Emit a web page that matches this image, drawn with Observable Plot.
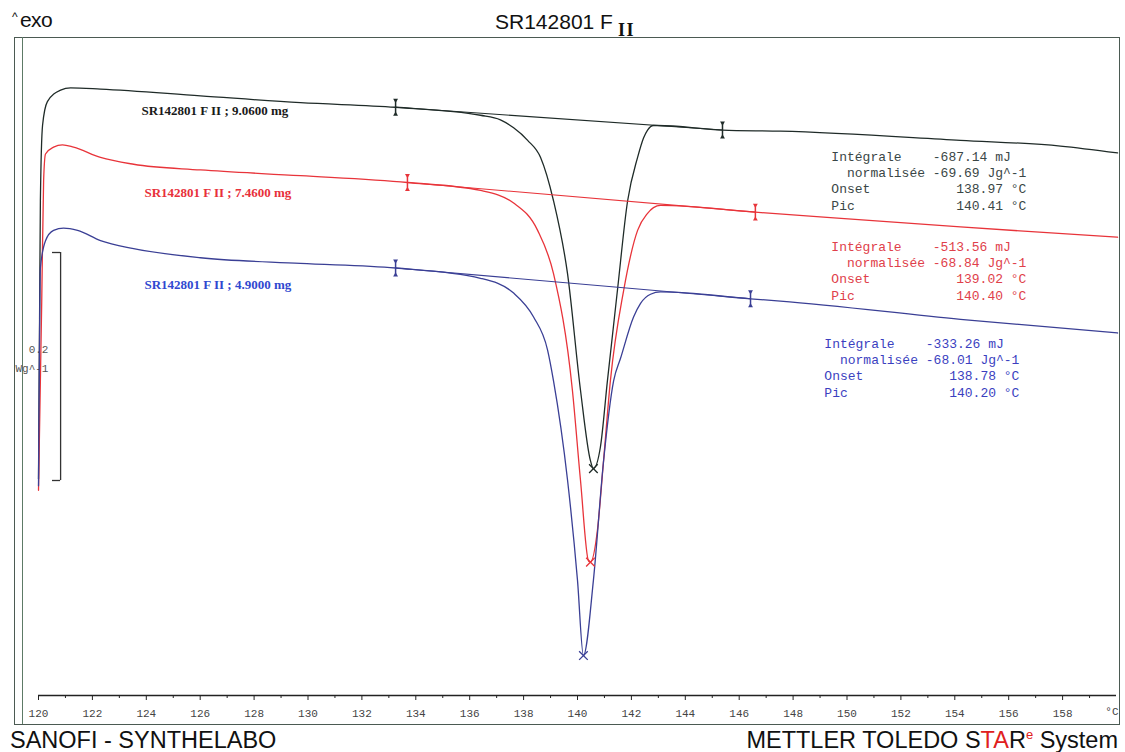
<!DOCTYPE html>
<html><head><meta charset="utf-8">
<script src="https://cdn.jsdelivr.net/npm/d3@7"></script>
<script src="https://cdn.jsdelivr.net/npm/@observablehq/plot@0.6"></script>
<style>
body{margin:0;background:#fff;}
svg text{white-space:pre;}
</style></head><body><div id="chart"></div>
<script>
// Temperature (°C) and heat flow (W/g, arbitrary zero)
const blackT = [120.00,120.04,120.07,120.15,120.33,120.82,121.19,122.30,126.01,129.72,133.25,136.40,137.14,137.63,138.15,138.63,139.11,139.63,140.11,140.48,140.59,140.85,141.11,141.48,141.86,142.23,142.45,142.60,142.82,142.97,145.38,147.53,154.21,157.92,160.04];
const blackHF = [0.190,0.330,0.434,0.500,0.521,0.531,0.533,0.532,0.526,0.520,0.516,0.509,0.505,0.498,0.487,0.472,0.434,0.370,0.268,0.206,0.199,0.218,0.276,0.355,0.434,0.472,0.489,0.496,0.500,0.500,0.496,0.495,0.487,0.482,0.476];

const redT = [120.00,120.12,120.19,120.26,120.56,120.89,121.30,122.30,123.53,126.01,129.72,133.69,136.40,137.63,138.52,139.11,139.81,140.11,140.41,140.48,140.74,140.96,141.22,141.71,142.23,142.60,142.82,143.08,146.60,154.21,160.04];
const redHF = [0.180,0.346,0.452,0.475,0.481,0.483,0.481,0.472,0.466,0.461,0.456,0.450,0.443,0.432,0.408,0.370,0.268,0.189,0.118,0.117,0.145,0.204,0.276,0.355,0.408,0.423,0.428,0.430,0.424,0.411,0.402];

const blueT = [120.00,120.04,120.07,120.26,120.56,120.93,121.45,122.30,123.53,126.01,129.72,133.25,136.40,137.63,138.37,138.89,139.11,139.63,140.00,140.22,140.59,140.96,141.34,141.60,142.08,142.34,142.71,143.08,146.42,147.53,154.21,160.04];
const blueHF = [0.184,0.320,0.375,0.399,0.408,0.410,0.408,0.399,0.392,0.384,0.379,0.375,0.366,0.353,0.332,0.303,0.276,0.189,0.101,0.035,0.101,0.204,0.276,0.296,0.332,0.344,0.352,0.354,0.348,0.346,0.330,0.318];

const seriesNames = ["SR142801 F II ; 9.0600 mg", "SR142801 F II ; 7.4600 mg", "SR142801 F II ; 4.9000 mg"];
const lineColors = ["#1f2b28", "#e8343a", "#3a3f95"];
const labelColors = ["#1a1a1a", "#e8303a", "#3048d0"];
const annotColors = ["#3a4646", "#e0404a", "#3b3fbf"];

// integration limits (start/end) and peak minima
const limitT = [[133.25,145.38],[133.69,146.60],[133.25,146.42]];
const limitHF = [[0.516,0.496],[0.450,0.424],[0.375,0.348]];
const peakT = [140.59, 140.48, 140.22];
const peakHF = [0.199, 0.117, 0.035];

// label anchors
const labelT = [123.82, 123.93, 123.93];
const labelHF = [0.513, 0.441, 0.360];

// evaluation results
const integrale = ["-687.14 mJ", "-513.56 mJ", "-333.26 mJ"];
const normalisee = ["-69.69 Jg^-1", "-68.84 Jg^-1", "-68.01 Jg^-1"];
const onset = ["138.97 °C", "139.02 °C", "138.78 °C"];
const pic = ["140.41 °C", "140.40 °C", "140.20 °C"];
const annotT = [149.42, 149.42, 149.16];
const annotHF = [0.4522, 0.3732, 0.2882];

const majorTicks = d3.range(120, 160, 2);
const minorTicks = d3.range(121, 160, 2);

// scale bar 0.2 W/g
const barT = 120.82, barArmT = 120.52, barLow = 0.1886, barSize = 0.2;

const curves = [[blackT, blackHF], [redT, redHF], [blueT, blueHF]].map(([T, H]) => T.map((t, i) => ({t, h: H[i]})));

const limits = limitT.flatMap((pair, s) => pair.map((t, j) => ({t, h: limitHF[s][j], s})));
const baselines = limitT.map((pair, s) => pair.map((t, j) => ({t, h: limitHF[s][j]})));
const peaks = peakT.map((t, s) => ({t, h: peakHF[s], s}));
const labels = seriesNames.map((name, s) => ({t: labelT[s], h: labelHF[s], name, s}));
const blocks = integrale.map((v, s) => ({
  t: annotT[s], h: annotHF[s], s,
  text: "Intégrale    " + v + "\n  normalisée " + normalisee[s] + "\nOnset           " + onset[s] + "\nPic             " + pic[s]
}));
const limitEnds = limits.flatMap(d => [{...d, h: d.h + 0.0062, r: 180}, {...d, h: d.h - 0.0062, r: 0}]);

const marks = [
  Plot.frame({stroke: "#4b5a52", insetLeft: -24, insetRight: -3, insetBottom: -29}),
  Plot.ruleX([120], {dx: -16, y1: -0.0254, y2: 0.5772, stroke: "#5d7a66"}),
  Plot.ruleY([0], {stroke: "#222", strokeWidth: 1.3}),
  Plot.axisX({ticks: majorTicks, tickSize: 5, tickPadding: 9, fontSize: 11, fill: "#444", stroke: "#222", label: null}),
  Plot.axisX({ticks: minorTicks, tickSize: 3, text: null, stroke: "#222", label: null}),
  Plot.text(["°C"], {frameAnchor: "bottom-right", dx: 2, dy: 19, textAnchor: "end", fontSize: 11, fill: "#444"}),
  // scale bar
  Plot.ruleX([barT], {y1: barLow, y2: barLow + barSize, stroke: "#333", strokeWidth: 1.3}),
  Plot.ruleY([barLow, barLow + barSize], {x1: barArmT, x2: barT, stroke: "#333", strokeWidth: 1.3}),
  Plot.text(["0.2", "Wg^-1"], {x: 120.37, y: [0.3035, 0.2868], textAnchor: "end", fontSize: 11, fill: "#555"}),
];
curves.forEach((data, s) => {
  marks.push(Plot.line(baselines[s], {x: "t", y: "h", stroke: lineColors[s], strokeWidth: 1.1}));
  marks.push(Plot.line(data, {x: "t", y: "h", stroke: lineColors[s], strokeWidth: 1.3, curve: "monotone-x"}));
});
marks.push(
  Plot.ruleX(limits, {x: "t", y1: d => d.h - 0.0062, y2: d => d.h + 0.0062, stroke: d => lineColors[d.s], strokeWidth: 1.5}),
  Plot.dot(limitEnds, {x: "t", y: "h", symbol: "triangle", r: 1.8, fill: d => lineColors[d.s], rotate: "r"}),
  Plot.dot(peaks, {x: "t", y: "h", symbol: "times", r: 4, stroke: d => lineColors[d.s], strokeWidth: 1.3}),
  Plot.text(labels, {x: "t", y: "h", text: "name", fill: d => labelColors[d.s], textAnchor: "start", fontFamily: "Liberation Serif, serif", fontWeight: "bold", fontSize: 13}),
  Plot.text(blocks, {x: "t", y: "h", text: "text", fill: d => annotColors[d.s], textAnchor: "start", lineAnchor: "middle", lineHeight: 1.256, fontFamily: "Liberation Mono, monospace", fontSize: 13})
);

const chart = Plot.plot({
  width: 1125, height: 752,
  marginLeft: 38, marginRight: 9, marginTop: 37, marginBottom: 57,
  x: {domain: [120, 160], axis: null},
  y: {domain: [0, 0.5772], axis: null},
  style: {background: "#fff", fontFamily: "Liberation Mono, monospace", overflow: "visible", color: "#333"},
  marks
});
document.getElementById("chart").appendChild(chart);

// title, exo marker and footer texts
const svg = d3.select(chart);
const sans = "Liberation Sans, Arial, sans-serif";
const title = svg.append("text").attr("x", 495).attr("y", 29).attr("text-anchor", "start").attr("fill", "#111");
title.append("tspan").attr("font-family", sans).attr("font-size", 21).text("SR142801 F");
title.append("tspan").attr("font-family", "Liberation Serif, serif").attr("font-weight", "bold").attr("font-size", 18).attr("letter-spacing", 1.5).attr("dx", 5).attr("dy", 7).text("II");

svg.append("text").attr("x", 12).attr("y", 21).attr("text-anchor", "start").attr("font-family", sans).attr("font-size", 12).attr("fill", "#111").text("^");
svg.append("text").attr("x", 20).attr("y", 27).attr("text-anchor", "start").attr("font-family", sans).attr("font-size", 21).attr("letter-spacing", -0.6).attr("fill", "#111").text("exo");

svg.append("text").attr("x", 10).attr("y", 748).attr("text-anchor", "start").attr("font-family", sans).attr("font-size", 23.5).attr("fill", "#111").text("SANOFI - SYNTHELABO");

const foot = svg.append("text").attr("x", 1118).attr("y", 748).attr("text-anchor", "end").attr("font-family", sans).attr("font-size", 23.5).attr("fill", "#111");
foot.append("tspan").text("METTLER TOLEDO S");
foot.append("tspan").attr("fill", "#e02020").text("TA");
foot.append("tspan").text("R");
foot.append("tspan").attr("fill", "#e02020").attr("font-size", 13).attr("dy", -9).text("e");
foot.append("tspan").attr("dy", 9).text(" System");
</script></body></html>
